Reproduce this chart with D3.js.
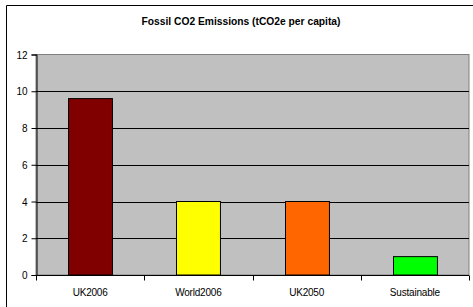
<!DOCTYPE html>
<html>
<head>
<meta charset="utf-8">
<script src="https://cdn.jsdelivr.net/npm/d3@7"></script>
<style>
  body { margin: 0; background: #fff; }
  svg { display: block; font-family: "Liberation Sans", Arial, sans-serif; }
</style>
</head>
<body>
<div id="chart"></div>
<script>
var categories = ['UK2006', 'World2006', 'UK2050', 'Sustainable'];
var values = [9.6, 4, 4, 1];
var barColors = ['#800000', '#ffff00', '#ff6600', '#00ff00'];
var yTicks = [0, 2, 4, 6, 8, 10, 12];

var width = 473, height = 307;
var plot = { left: 36, right: 469, top: 54.5, bottom: 275 };

var svg = d3.select('#chart').append('svg')
    .attr('width', width)
    .attr('height', height);

// chart frame (only left and top visible)
svg.append('path')
    .attr('d', 'M6.5,' + height + 'V5.5H' + width)
    .attr('fill', 'none')
    .attr('stroke', '#000')
    .attr('stroke-width', 1);

svg.append('text')
    .attr('x', 241)
    .attr('y', 25)
    .attr('text-anchor', 'middle')
    .attr('textLength', 199)
    .attr('lengthAdjust', 'spacingAndGlyphs')
    .style('font-size', '10px')
    .style('font-weight', 'bold')
    .text('Fossil CO2 Emissions (tCO2e per capita)');

var x = d3.scaleBand()
    .domain(categories)
    .range([plot.left, plot.right])
    .paddingInner(0.594)
    .paddingOuter(0.297);

var y = d3.scaleLinear()
    .domain([0, 12])
    .range([plot.bottom, plot.top]);

// plot area
svg.append('rect')
    .attr('x', plot.left)
    .attr('y', plot.top)
    .attr('width', plot.right - plot.left)
    .attr('height', plot.bottom - plot.top)
    .attr('fill', '#c0c0c0')
    .attr('stroke', '#808080');

// gridlines
svg.selectAll('line.grid')
    .data(yTicks.filter(function(d) { return d > 0 && d < 12; }))
    .enter()
    .append('line')
    .attr('class', 'grid')
    .attr('x1', plot.left)
    .attr('x2', plot.right)
    .attr('y1', function(d) { return Math.round(y(d)) + 0.5; })
    .attr('y2', function(d) { return Math.round(y(d)) + 0.5; })
    .attr('stroke', '#000')
    .attr('stroke-width', 1);

// bars
svg.selectAll('rect.bar')
    .data(values)
    .enter()
    .append('rect')
    .attr('class', 'bar')
    .attr('x', function(d, i) { return Math.round(x(categories[i])) + 0.5; })
    .attr('y', function(d) { return y(d); })
    .attr('width', x.bandwidth())
    .attr('height', function(d) { return y(0) - y(d); })
    .attr('fill', function(d, i) { return barColors[i]; })
    .attr('stroke', '#000')
    .attr('stroke-width', 1);

// y axis
var yAxis = svg.append('g')
    .attr('transform', 'translate(' + (plot.left + 0.5) + ',0)')
    .call(d3.axisLeft(y).tickValues(yTicks).tickSize(5).tickPadding(4).tickFormat(d3.format('d')));
yAxis.select('.domain').attr('stroke', '#000');
yAxis.selectAll('text').style('font-size', '10px').attr('fill', '#000').attr('dy', '0.35em');

// x axis with ticks at category boundaries
var xAxisG = svg.append('g')
    .attr('transform', 'translate(0,' + (Math.round(y(0)) + 0.5) + ')');
xAxisG.append('line')
    .attr('x1', plot.left)
    .attr('x2', plot.right)
    .attr('stroke', '#000');
var bounds = categories.map(function(c) { return x(c) - x.step() * x.paddingInner() / 2; });
bounds.push(plot.right);
xAxisG.selectAll('line.tick')
    .data(bounds)
    .enter()
    .append('line')
    .attr('class', 'tick')
    .attr('x1', function(d) { return Math.round(d) + 0.5; })
    .attr('x2', function(d) { return Math.round(d) + 0.5; })
    .attr('y1', 0)
    .attr('y2', 5)
    .attr('stroke', '#000');
xAxisG.selectAll('text')
    .data(categories)
    .enter()
    .append('text')
    .attr('x', function(d) { return x(d) + x.bandwidth() / 2; })
    .attr('y', 20)
    .attr('text-anchor', 'middle')
    .style('font-size', '10px')
    .style('letter-spacing', '-0.2px')
    .text(function(d) { return d; });
</script>
</body>
</html>
